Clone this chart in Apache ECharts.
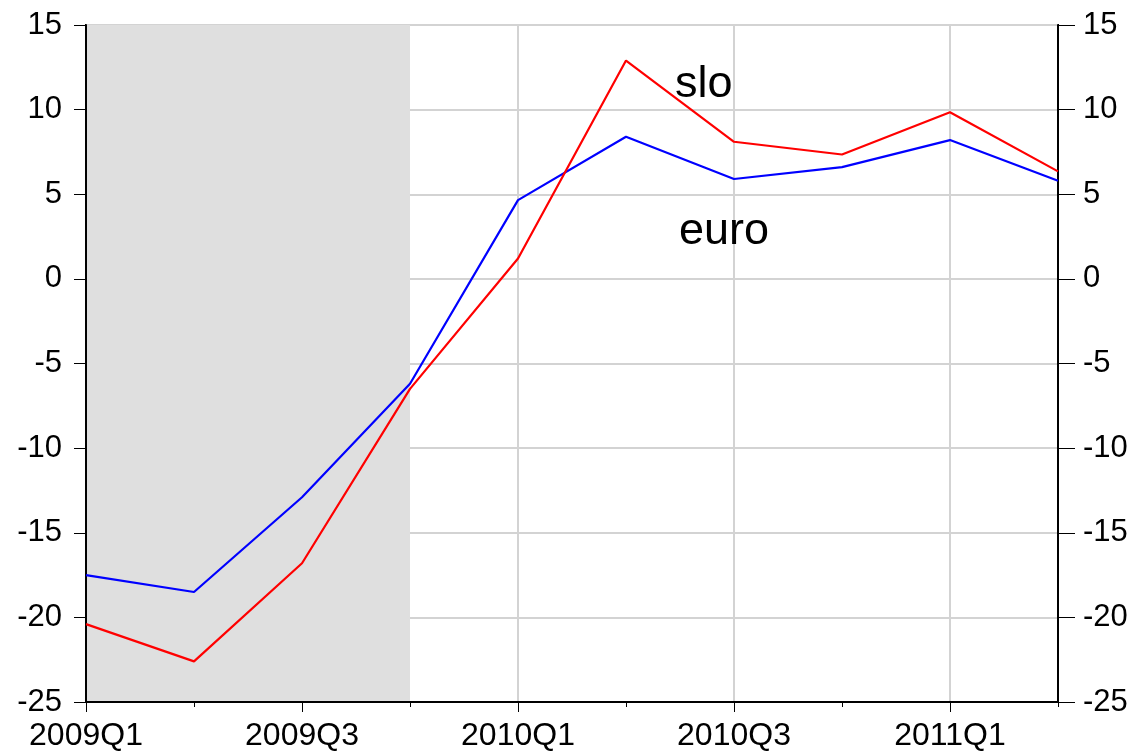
<!DOCTYPE html>
<html>
<head>
<meta charset="utf-8">
<script src="https://cdn.jsdelivr.net/npm/echarts@6/dist/echarts.min.js"></script>
<style>html,body{margin:0;padding:0;background:#fff}#c{width:1132px;height:752px}</style>
</head>
<body>
<div id="c"></div>
<script>
const categories = ['2009Q1','2009Q2','2009Q3','2009Q4','2010Q1','2010Q2','2010Q3','2010Q4','2011Q1','2011Q2'];
const slo  = [-20.4, -22.6, -16.8, -6.5, 1.2, 12.9, 8.1, 7.35, 9.85, 6.35];
const euro = [-17.5, -18.5, -12.9, -6.2, 4.65, 8.4, 5.9, 6.6, 8.2, 5.8];
const shadeStart = '2009Q1';
const shadeEnd = '2009Q4';
const yMin = -25, yMax = 15, yStep = 5;

const FONT = 'Liberation Sans';
const chart = echarts.init(document.getElementById('c'), null, {renderer: 'canvas'});
const yAxisCommon = {
  type: 'value', min: yMin, max: yMax, interval: yStep, z: 1,
  axisLine: {show: true, onZero: false, lineStyle: {color: '#000', width: 2}},
  axisTick: {show: true, length: 12, lineStyle: {color: '#000', width: 1}},
  axisLabel: {fontFamily: FONT, fontSize: 31, color: '#000', margin: 24},
};
chart.setOption({
  animation: false,
  grid: {left: 86, right: 74, top: 25, bottom: 49, show: true, borderColor: '#000', borderWidth: 2, backgroundColor: 'transparent'},
  xAxis: [{
    type: 'category', data: categories, boundaryGap: false, z: 1,
    axisLine: {show: true, onZero: false, lineStyle: {color: '#000', width: 2}},
    axisTick: {show: true, interval: 0, length: 5, lineStyle: {color: '#000', width: 1}},
    axisLabel: {interval: 1, fontFamily: FONT, fontSize: 32, color: '#000', margin: 18},
    splitLine: {show: true, interval: 1, lineStyle: {color: '#d3d3d3', width: 2}}
  }, {
    type: 'category', data: categories, boundaryGap: false, position: 'bottom', z: 1,
    axisLine: {show: false, onZero: false},
    axisTick: {show: true, interval: 1, length: 10, lineStyle: {color: '#000', width: 1}},
    axisLabel: {show: false},
    splitLine: {show: false}
  }],
  yAxis: [
    Object.assign({}, yAxisCommon, {position: 'left', splitLine: {show: true, lineStyle: {color: '#d3d3d3', width: 2}}}),
    Object.assign({}, yAxisCommon, {position: 'right', axisTick: {show: true, length: 17, lineStyle: {color: '#000', width: 1}}, axisLabel: Object.assign({}, yAxisCommon.axisLabel, {margin: 25}), splitLine: {show: false}})
  ],
  series: [
    {
      type: 'line', data: [], z: 0, silent: true,
      markArea: {silent: true, itemStyle: {color: '#dfdfdf'}, data: [[{xAxis: shadeStart}, {xAxis: shadeEnd}]]}
    },
    {name: 'euro', type: 'line', data: euro, symbol: 'none', lineStyle: {color: '#0000ff', width: 2.2}, z: 3},
    {name: 'slo', type: 'line', data: slo, symbol: 'none', lineStyle: {color: '#ff0000', width: 2.2}, z: 4}
  ],
  graphic: [
    {type: 'text', x: 675, y: 85, style: {text: 'slo', fontFamily: FONT, fontSize: 45, fill: '#000', verticalAlign: 'middle'}, z: 10},
    {type: 'text', x: 679, y: 232, style: {text: 'euro', fontFamily: FONT, fontSize: 45, fill: '#000', verticalAlign: 'middle'}, z: 10}
  ]
});
</script>
</body>
</html>
